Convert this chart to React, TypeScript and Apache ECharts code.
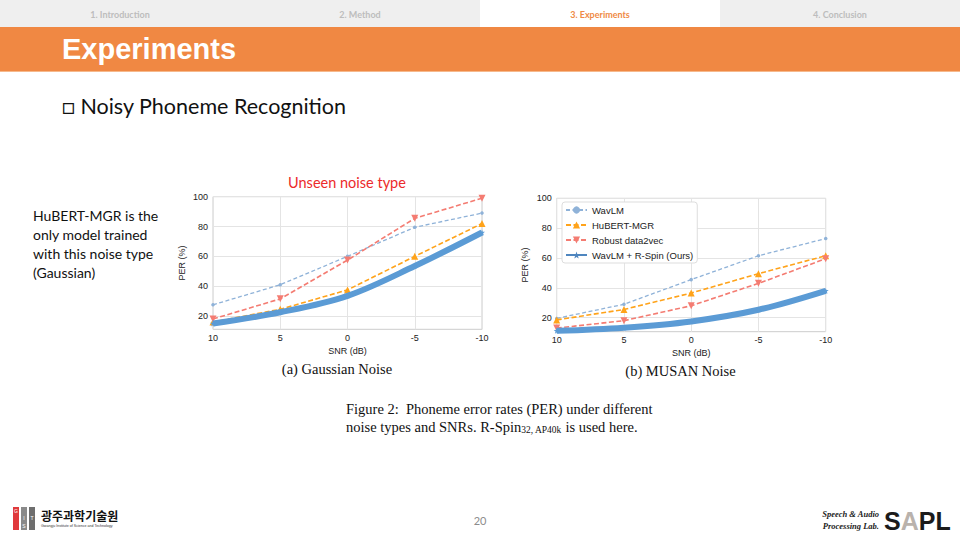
import React, { useEffect, useRef } from "react";
import * as echarts from "echarts";

// ---------- data ----------
const SNR = [10, 5, 0, -5, -10];
const SERIES_NAMES = ["WavLM", "HuBERT-MGR", "Robust data2vec", "WavLM + R-Spin (Ours)"];

const GAUSS_WAVLM = [27.5, 41, 60, 79.5, 89];
const GAUSS_HUBERT = [16, 24.5, 37.5, 60, 82];
const GAUSS_ROBUST = [18, 31.5, 57.5, 85.5, 99];
const GAUSS_RSPIN = [15, 22.5, 33.5, 53.5, 76];

const MUSAN_WAVLM = [19.5, 29, 45.5, 61.5, 73];
const MUSAN_HUBERT = [18.5, 25.5, 36.5, 49.5, 61.5];
const MUSAN_ROBUST = [13, 18, 28, 43, 59.5];
const MUSAN_RSPIN = [11.2, 13.3, 17.5, 25.3, 38];

const Y_TICKS = [20, 40, 60, 80, 100];
const X_AXIS_NAME = "SNR (dB)";
const Y_AXIS_NAME = "PER (%)";

const TABS = ["1. Introduction", "2. Method", "3. Experiments", "4. Conclusion"];
const ACTIVE_TAB = 2;
const TITLE = "Experiments";
const BULLET = "\u25A1 Noisy Phoneme Recognition";
const NOTE_LINES = ["HuBERT-MGR is the", "only model trained", "with this noise type", "(Gaussian)"];
const UNSEEN = "Unseen noise type";
const SUB_CAPTIONS = ["(a) Gaussian Noise", "(b) MUSAN Noise"];
const FIG_CAPTION_1 = "Figure 2:  Phoneme error rates (PER) under different";
const FIG_CAPTION_2 = "noise types and SNRs. R-Spin{sub|32, AP40k} is used here.";
const PAGE_NO = "20";

// ---------- styles ----------
const SANS = "'Liberation Sans', Arial, sans-serif";
const SERIF = "'Liberation Serif', 'Times New Roman', serif";
const HUMAN = "Lato, 'Open Sans', sans-serif";
const STAR =
  "path://M50,0 L61.8,35.4 L98.1,35.4 L68.7,57.3 L79.4,92.7 L50,70.8 L20.6,92.7 L31.3,57.3 L1.9,35.4 L38.2,35.4 Z";

const LOOKS = [
  { color: "#8fb2d8", width: 1.3, type: [4, 2.5], symbol: "circle", size: 3.5, rotate: 0, smooth: false },
  { color: "#ffa31a", width: 1.6, type: [5, 2.5], symbol: "triangle", size: 7, rotate: 0, smooth: false },
  { color: "#f47c72", width: 1.6, type: [5, 2.5], symbol: "triangle", size: 7, rotate: 180, smooth: false },
  { color: "#5b9bd5", width: 6, type: "solid", symbol: STAR, size: 6, rotate: 0, smooth: 0.35 },
];

function makeSeries(values: number[][], idx: number) {
  return values.map((vals, i) => {
    const l = LOOKS[i];
    return {
      type: "line",
      name: SERIES_NAMES[i],
      xAxisIndex: idx,
      yAxisIndex: idx,
      data: SNR.map((x, k) => [x, vals[k]]),
      smooth: l.smooth,
      symbol: l.symbol,
      symbolSize: l.size,
      symbolRotate: l.rotate,
      showSymbol: true,
      itemStyle: { color: l.color },
      lineStyle: { color: l.color, width: l.width, type: l.type },
      emphasis: { disabled: true },
      z: 2 + i,
    };
  });
}

function makeX(gridIndex: number) {
  return {
    type: "value",
    gridIndex,
    min: -10,
    max: 10,
    interval: 5,
    inverse: true,
    name: X_AXIS_NAME,
    nameLocation: "middle",
    nameGap: 17,
    nameTextStyle: { fontFamily: SANS, fontSize: 9, color: "#222" },
    axisLine: { show: false },
    axisTick: { show: false },
    axisLabel: { fontFamily: SANS, fontSize: 9, color: "#222", margin: 4 },
    splitLine: { show: true, lineStyle: { color: "#e4e4e4", width: 1 } },
  };
}

function makeY(gridIndex: number, min: number) {
  return {
    type: "value",
    gridIndex,
    min,
    max: 100,
    name: Y_AXIS_NAME,
    nameLocation: "middle",
    nameGap: 27,
    nameTextStyle: { fontFamily: SANS, fontSize: 9, color: "#222" },
    axisLine: { show: false },
    axisTick: { show: false, customValues: Y_TICKS },
    axisLabel: { fontFamily: SANS, fontSize: 9, color: "#222", margin: 5, customValues: Y_TICKS },
    splitLine: { show: true, lineStyle: { color: "#e4e4e4", width: 1 } },
  };
}

function txt(x: number, y: number, text: string, style: any) {
  return { type: "text", x, y, silent: true, style: { text, textVerticalAlign: "middle", ...style } };
}

function buildGraphic() {
  const g: any[] = [];
  // tab bar
  g.push({ type: "rect", shape: { x: 0, y: 0, width: 960, height: 27 }, style: { fill: "#efefef" }, silent: true });
  g.push({ type: "rect", shape: { x: 480, y: 0, width: 240, height: 27 }, style: { fill: "#ffffff" }, silent: true });
  TABS.forEach((t, i) => {
    g.push(
      txt(120 + i * 240, 14, t, {
        textAlign: "center",
        fontFamily: HUMAN,
        fontWeight: "bold",
        fontSize: 9,
        fill: i === ACTIVE_TAB ? "#ef8a45" : "#bdbdbd",
      })
    );
  });
  // orange title band
  g.push({ type: "rect", shape: { x: 0, y: 27, width: 960, height: 45 }, style: { fill: "#f08843" }, silent: true });
  g.push({ type: "rect", shape: { x: 0, y: 71, width: 960, height: 1 }, style: { fill: "#f6b98c" }, silent: true });
  g.push(txt(62, 49, TITLE, { fontFamily: SANS, fontWeight: "bold", fontSize: 29, fill: "#ffffff" }));
  // bullet heading
  g.push(txt(62, 106, BULLET, { fontFamily: HUMAN, fontSize: 21.5, fill: "#111" }));
  // side note
  NOTE_LINES.forEach((l, i) => {
    g.push(txt(33, 215 + i * 19, l, { fontFamily: HUMAN, fontSize: 14, fill: "#111" }));
  });
  // unseen label
  g.push(txt(347, 182, UNSEEN, { textAlign: "center", fontFamily: HUMAN, fontSize: 14.5, fill: "#ec2a2a" }));
  // sub captions
  g.push(txt(337, 369, SUB_CAPTIONS[0], { textAlign: "center", fontFamily: SERIF, fontSize: 14.5, fill: "#111" }));
  g.push(txt(680.5, 371, SUB_CAPTIONS[1], { textAlign: "center", fontFamily: SERIF, fontSize: 14.5, fill: "#111" }));
  // figure caption
  g.push(txt(346, 409, FIG_CAPTION_1, { fontFamily: SERIF, fontSize: 14.5, fill: "#111" }));
  g.push(
    txt(346, 427, FIG_CAPTION_2, {
      fontFamily: SERIF,
      fontSize: 14.5,
      fill: "#111",
      rich: {
        sub: { fontFamily: SERIF, fontSize: 9.5, fill: "#111", verticalAlign: "bottom", lineHeight: 14, padding: [5, 0, 0, 0] },
      },
    })
  );
  // GIST logo (approximation)
  g.push({ type: "rect", shape: { x: 13, y: 507, width: 6, height: 23 }, style: { fill: "#e0393c" }, silent: true });
  g.push({ type: "rect", shape: { x: 21, y: 507, width: 6, height: 23 }, style: { fill: "#8a8a8a" }, silent: true });
  g.push({ type: "rect", shape: { x: 29, y: 507, width: 6, height: 23 }, style: { fill: "#6e6e6e" }, silent: true });
  g.push(txt(16, 511, "G", { textAlign: "center", fontFamily: SANS, fontSize: 5, fill: "#fff" }));
  g.push(txt(24, 518, "I", { textAlign: "center", fontFamily: SANS, fontSize: 5, fill: "#fff" }));
  g.push(txt(24, 526, "S", { textAlign: "center", fontFamily: SANS, fontSize: 5, fill: "#fff" }));
  g.push(txt(32, 518, "T", { textAlign: "center", fontFamily: SANS, fontSize: 5, fill: "#fff" }));
  g.push(txt(41, 515, "광주과학기술원", { fontFamily: "'Noto Sans CJK KR', sans-serif", fontWeight: "bold", fontSize: 12, fill: "#111" }));
  g.push(txt(41, 526, "Gwangju Institute of Science and Technology", { fontFamily: SANS, fontSize: 3.6, fill: "#333" }));
  // page number
  g.push(txt(480, 520, PAGE_NO, { textAlign: "center", fontFamily: HUMAN, fontSize: 11, fill: "#8c8c8c" }));
  // SAPL logo
  g.push(txt(879, 514, "Speech & Audio", { textAlign: "right", fontFamily: SERIF, fontStyle: "italic", fontWeight: "bold", fontSize: 8.5, fill: "#222" }));
  g.push(txt(879, 526, "Processing Lab.", { textAlign: "right", fontFamily: SERIF, fontStyle: "italic", fontWeight: "bold", fontSize: 8.5, fill: "#222" }));
  g.push(
    txt(884, 521, "{s|S}{a|A}{s|PL}", {
      rich: {
        s: { fontFamily: SANS, fontWeight: "bold", fontSize: 25, fill: "#1b1b1b" },
        a: { fontFamily: SANS, fontWeight: "bold", fontSize: 25, fill: "#b9b2ac" },
      },
    })
  );
  return g;
}

export default function App() {
  const ref = useRef<HTMLDivElement>(null);
  useEffect(() => {
    if (!ref.current) return;
    const chart = echarts.init(ref.current, null, { renderer: "svg" });
    const series = [
      ...makeSeries([GAUSS_WAVLM, GAUSS_HUBERT, GAUSS_ROBUST, GAUSS_RSPIN], 0),
      ...makeSeries([MUSAN_WAVLM, MUSAN_HUBERT, MUSAN_ROBUST, MUSAN_RSPIN], 1),
    ];
    chart.setOption({
      animation: false,
      backgroundColor: "#ffffff",
      grid: [
        { left: 213, top: 196.7, width: 269, height: 132.6, show: true, borderColor: "#cccccc", borderWidth: 1, backgroundColor: "transparent" },
        { left: 556.7, top: 198.3, width: 269, height: 133.4, show: true, borderColor: "#cccccc", borderWidth: 1, backgroundColor: "transparent" },
      ],
      xAxis: [makeX(0), makeX(1)],
      yAxis: [makeY(0, 11.1), makeY(1, 10.6)],
      legend: {
        show: true,
        orient: "vertical",
        left: 562,
        top: 202,
        selectedMode: false,
        itemWidth: 21,
        itemHeight: 9,
        itemGap: 5,
        padding: [3, 4, 3, 3],
        backgroundColor: "#ffffff",
        borderColor: "#dddddd",
        borderWidth: 1,
        borderRadius: 3,
        textStyle: { fontFamily: SANS, fontSize: 9.5, color: "#222" },
        data: SERIES_NAMES.map((n, i) =>
          i === 3 ? { name: n, lineStyle: { width: 2, color: "#4f86bf" }, itemStyle: { color: "#4f86bf" } } : { name: n }
        ),
      },
      graphic: buildGraphic(),
      series,
    });
    return () => chart.dispose();
  }, []);
  return <div ref={ref} style={{ position: "absolute", left: 0, top: 0, width: 960, height: 540 }} />;
}
